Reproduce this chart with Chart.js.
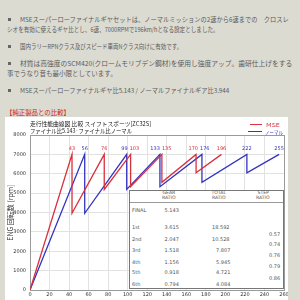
<!DOCTYPE html>
<html><head><meta charset="utf-8">
<script src="https://cdn.jsdelivr.net/npm/chart.js@4"></script>
<style>
html,body{margin:0;padding:0;}
body{width:300px;height:300px;overflow:hidden;background:#dcdbd2;position:relative;font-family:"Noto Sans CJK JP",sans-serif;}
.fit{position:absolute;white-space:nowrap;line-height:1;transform-origin:0 0;}
.txt{font-size:6.5px;color:#5a5a5a;}
.bul{position:absolute;width:3px;height:3px;background:#666;}
#panel{position:absolute;left:5px;top:117px;width:283px;height:183px;background:#fff;}
#cv{position:absolute;left:5px;top:117px;}
.ttl{font-size:6px;color:#1a1a1a;}
.leg{position:absolute;height:1.3px;}
#tbl{position:absolute;left:129px;top:190px;width:153px;height:97px;border:1px solid #777;background:#fff;box-sizing:content-box;}
.tc{position:absolute;white-space:nowrap;font-family:"DejaVu Sans",sans-serif;font-size:5px;color:#555;line-height:1;}
</style></head><body>
<div class="bul" style="left:8px;top:17.5px"></div>
<div class="fit txt" data-x1="20" data-x2="289" data-y="19">MSEスーパーローファイナルギヤセットは、ノーマルミッションの2速から6速までの　クロスレ</div>
<div class="fit txt" data-x1="7" data-x2="219" data-y="29">シオを有効に使えるギヤ比とし、6速、7000RPMで196km/hとなる設定としました。</div>
<div class="bul" style="left:8px;top:44.5px"></div>
<div class="fit txt" data-x1="20" data-x2="182" data-y="46">国内ラリーRPNクラス及びスピード車両Nクラス向けに有効です。</div>
<div class="bul" style="left:8px;top:61.5px"></div>
<div class="fit txt" data-x1="20" data-x2="292" data-y="63">材質は高強度のSCM420(クロームモリブデン鋼材)を使用し強度アップ。歯研仕上げをする</div>
<div class="fit txt" data-x1="7" data-x2="117" data-y="73">事でうなり音も最小限としています。</div>
<div class="bul" style="left:8px;top:88.5px"></div>
<div class="fit txt" data-x1="20" data-x2="229" data-y="90">MSEスーパーローファイナルギヤ比5.143 / ノーマルファイナルギア比3.944</div>
<div class="fit txt" data-x1="6" data-x2="70" data-y="112" style="color:#d02020;font-size:7px">【純正製品との比較】</div>
<div id="panel"></div>
<canvas id="cv" width="283" height="183"></canvas>
<div class="fit ttl" data-x1="30" data-x2="151" data-y="124">走行性能曲線図 比較 スイフトスポーツ[ZC32S]</div>
<div class="fit ttl" data-x1="30" data-x2="132" data-y="130.5">ファイナル比5.143·ファイナル比ノーマル</div>
<div class="leg" style="left:250px;top:123.5px;width:12px;background:#d8303c"></div>
<div class="fit ttl" data-x1="266" data-x2="280" data-y="124" style="color:#d8303c;font-size:5px">MSE</div>
<div class="leg" style="left:248px;top:130.5px;width:14px;background:#3434c0"></div>
<div class="fit ttl" data-x1="265" data-x2="283" data-y="131" style="color:#3434c0;font-size:5px">ノーマル</div>
<div id="tbl"></div>
<script>
// ---- data ----
const mseSpeeds   = [0, 43, 43, 76, 76, 103, 103, 135, 135, 170, 170, 196];
const mseRpm      = [0, 7000, 3960, 7000, 5190, 7000, 5330, 7000, 5560, 7000, 6050, 7000];
const normalSpeeds = [0, 56, 56, 99, 99, 133, 133, 176, 176, 222, 222, 255];
const normalRpm    = [0, 7000, 3960, 7000, 5190, 7000, 5330, 7000, 5560, 7000, 6050, 7000];
const seriesNames = ['MSE', 'ノーマル'];
const xMax = 260, xStep = 20, yMax = 8000, yStep = 1000;
const yTitle = 'ENG 回転数 [rpm]';
const tableHeaders = [['GEAR','RATIO'], ['TOTAL','RATIO'], ['STEP','RATIO']];
const finalLabel = 'FINAL';
const finalRatio = '5.143';
const gearLabels = ['1st','2nd','3rd','4th','5th','6th'];
const gearRatios = ['3.615','2.047','1.518','1.156','0.918','0.794'];
const totalRatios = ['18.592','10.528','7.807','5.945','4.721','4.084'];
const stepRatios = ['0.57','0.74','0.76','0.79','0.86'];

// ---- fit text lines ----
document.querySelectorAll('.fit').forEach(el => {
  const x1 = +el.dataset.x1, x2 = +el.dataset.x2, y = +el.dataset.y;
  const w = el.offsetWidth, h = el.offsetHeight;
  el.style.left = x1 + 'px';
  el.style.top = (y - h / 2) + 'px';
  el.style.transform = 'scaleX(' + ((x2 - x1) / w) + ')';
});

// ---- table ----
const tbl = document.getElementById('tbl');
const T0x = 130, T0y = 191;
function put(text, x, y, align, extra) {
  const d = document.createElement('div');
  d.className = 'tc';
  d.textContent = text;
  if (extra) d.style.cssText += extra;
  tbl.appendChild(d);
  const w = d.offsetWidth, h = d.offsetHeight;
  let left = x;
  if (align === 'center') left = x - w / 2;
  if (align === 'right') left = x - w;
  d.style.left = (left - T0x) + 'px';
  d.style.top = (y - h / 2 - T0y) + 'px';
}
const hdrX = [169, 219, 263];
tableHeaders.forEach((h, i) => {
  put(h[0], hdrX[i], 193.6, 'center', 'font-size:4.6px');
  put(h[1], hdrX[i], 198.6, 'center', 'font-size:4.6px');
});
const hl = document.createElement('div');
hl.style.cssText = 'position:absolute;left:0;right:0;top:' + (202 - T0y) + 'px;height:1px;background:#999';
tbl.appendChild(hl);
put(finalLabel, 132, 210.5, 'left');
put(finalRatio, 164.5, 210.5, 'left');
const rowY = [227.3, 239, 250.6, 262, 272.8, 284];
const stepY = [234, 244.8, 255.8, 266.8, 278.4];
gearLabels.forEach((g, i) => {
  put(g, 132, rowY[i], 'left');
  put(gearRatios[i], 164.5, rowY[i], 'left');
  put(totalRatios[i], 230, rowY[i], 'right');
});
stepRatios.forEach((s, i) => put(s, 280, stepY[i], 'right'));

// ---- chart ----
const RED = '#d8303c', BLUE = '#3434c0';
function pts(xs, ys) { return xs.map((x, i) => ({x: x, y: ys[i]})); }

const peakLabels = {
  id: 'peakLabels',
  afterDatasetsDraw(chart) {
    const ctx = chart.ctx;
    const items = [];
    chart.data.datasets.forEach((ds, di) => {
      const meta = chart.getDatasetMeta(di);
      ds.data.forEach((p, i) => {
        if (p.y === 7000 && p.x > 0) {
          items.push({px: meta.data[i].x, py: meta.data[i].y, text: String(p.x), color: ds.borderColor});
        }
      });
    });
    items.sort((a, b) => a.px - b.px);
    ctx.save();
    ctx.font = '5px "DejaVu Sans", sans-serif';
    ctx.textBaseline = 'middle';
    items.forEach(it => { it.w = ctx.measureText(it.text).width; it.left = it.px - it.w / 2; });
    for (let i = 1; i < items.length; i++) {
      const a = items[i - 1], b = items[i];
      if (a.left + a.w + 1 > b.left) {
        const mid = (a.px + b.px) / 2;
        a.left = mid - 1 - a.w;
        b.left = mid + 1;
      }
    }
    items.forEach(it => {
      ctx.fillStyle = it.color;
      ctx.textAlign = 'left';
      ctx.fillText(it.text, it.left, it.py - 5.5);
    });
    ctx.restore();
  }
};
const frame = {
  id: 'frame',
  beforeDatasetsDraw(chart) {
    const {ctx, chartArea: a} = chart;
    ctx.save();
    ctx.strokeStyle = '#9a9a9a';
    ctx.lineWidth = 1;
    ctx.strokeRect(Math.round(a.left) + 0.5, Math.round(a.top) + 0.5, Math.round(a.right - a.left), Math.round(a.bottom - a.top));
    ctx.restore();
  }
};

new Chart(document.getElementById('cv'), {
  type: 'line',
  data: {
    datasets: [
      {label: seriesNames[0], data: pts(mseSpeeds, mseRpm), borderColor: RED, borderWidth: 1.3, pointRadius: 0, tension: 0, fill: false},
      {label: seriesNames[1], data: pts(normalSpeeds, normalRpm), borderColor: BLUE, borderWidth: 1.3, pointRadius: 0, tension: 0, fill: false}
    ]
  },
  options: {
    responsive: false,
    animation: false,
    events: [],
    layout: {padding: {top: 18, right: 4, left: 0, bottom: 0}},
    plugins: {legend: {display: false}, tooltip: {enabled: false}, title: {display: false}},
    scales: {
      x: {
        type: 'linear', min: 0, max: xMax,
        ticks: {stepSize: xStep, font: {size: 5, family: 'DejaVu Sans'}, color: '#333', padding: 2, maxRotation: 0, autoSkip: false},
        grid: {color: '#e2e2e2', drawTicks: false},
        border: {color: '#888'},
        afterFit(s) { s.height = 10; s.paddingLeft = 0; s.paddingRight = 0; }
      },
      y: {
        type: 'linear', min: 0, max: yMax,
        ticks: {stepSize: yStep, font: {size: 5, family: 'DejaVu Sans'}, color: '#333', padding: 4, callback: v => String(v)},
        grid: {color: '#e2e2e2', drawTicks: false},
        border: {color: '#888'},
        title: {display: true, text: yTitle, font: {size: 7, family: '"Noto Sans CJK JP"'}, color: '#333', padding: {top: 1, bottom: 0}},
        afterFit(s) { s.width = 25; s.paddingTop = 0; s.paddingBottom = 0; }
      }
    }
  },
  plugins: [frame, peakLabels]
});
</script>
</body></html>
